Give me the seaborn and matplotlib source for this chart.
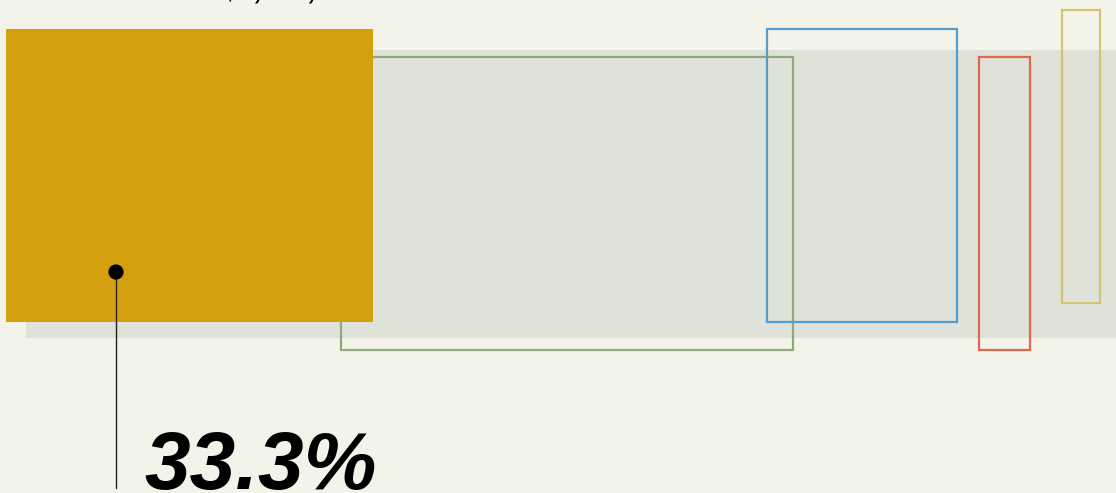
import seaborn as sns
import matplotlib.pyplot as plt
import numpy as np

# Shares of the total (area of each block is proportional)
segments = ["A", "B", "C", "D", "E"]
shares = [33.4, 41.2, 17.3, 4.6, 3.5]
colors = ["#D5A00F", "#8FA97A", "#519FD0", "#E0684E", "#D6C271"]
filled = [True, False, False, False, False]
# layout tweaks: gap before each block (negative = overlap) and vertical jitter
gaps = [6, -32, -26, 22, 32]
lifts = [29, 57, 29, 57, 10]
highlight_label = "33.3%"
title_text = "Total sales: $1,250,000"

bg = "#F3F3EA"
sns.set_theme(style="white", rc={"figure.facecolor": bg, "axes.facecolor": bg})

fig = plt.figure(figsize=(11.16, 4.93), dpi=100)
ax = fig.add_axes([0, 0, 1, 1])
ax.set_xlim(0, 1116)
ax.set_ylim(493, 0)
ax.axis("off")

scale = 1098 / sum(shares)
height = 293

# background band
ax.add_patch(plt.Rectangle((26, 50), 1200, 288, color="#DFE2D8", lw=0, zorder=0))

left = 0
for s, c, f, g, y in zip(shares, colors, filled, gaps, lifts):
    left += g
    w = s * scale
    if f:
        ax.bar(left, height, width=w, bottom=y, align="edge", color=c, lw=0, zorder=3)
    else:
        ax.bar(left, height, width=w, bottom=y, align="edge", facecolor="none",
               edgecolor=c, lw=1.6, zorder=2)
    left += w

# callout
px = 116
sns.scatterplot(x=[px], y=[272], color="black", s=120, ax=ax, zorder=5, edgecolor="none")
ax.plot([px, px], [272, 488], color="#222222", lw=1, zorder=4)
ax.text(144, 489, highlight_label, fontsize=59, fontweight="bold", style="italic",
        family="Liberation Sans", color="black", va="baseline", ha="left")

# headline sits mostly above the visible area
ax.text(65, -1.5, title_text, fontsize=20, fontweight="bold", style="italic",
        family="Liberation Sans", color="black", va="baseline", ha="left")

fig.savefig("out.png", dpi=100, facecolor=bg)
